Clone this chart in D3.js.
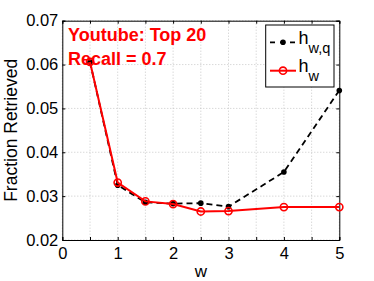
<!DOCTYPE html>
<html><head><meta charset="utf-8">
<script src="https://cdn.jsdelivr.net/npm/d3@7"></script>
<style>body{margin:0;background:#fff}svg{display:block}text{font-family:"Liberation Sans",Arial,sans-serif}</style>
</head><body><svg id="c" width="374" height="281"></svg>
<script>
const xsHwq = [0.5, 1, 1.5, 2, 2.5, 3, 4, 5];
const hwq   = [0.0606, 0.0325, 0.0286, 0.0283, 0.0284, 0.0276, 0.0355, 0.0541];
const xsHw  = [0.5, 1, 1.5, 2, 2.5, 3, 4, 5];
const hw    = [0.0606, 0.0331, 0.0288, 0.0282, 0.0265, 0.0266, 0.0275, 0.0275];
const xTickLabels = [0, 1, 2, 3, 4, 5];
const xGrid = [0, 0.5, 1, 1.5, 2, 2.5, 3, 3.5, 4, 4.5, 5];
const yTicks = [0.02, 0.03, 0.04, 0.05, 0.06, 0.07];

const svg = d3.select("#c");
const L = 62.3, R = 339.3, T = 20.7, B = 240;
const x = d3.scaleLinear().domain([0, 5]).range([L, R]);
const y = d3.scaleLinear().domain([0.02, 0.07]).range([B, T]);

svg.append("rect").attr("x", L).attr("y", T).attr("width", R - L).attr("height", B - T).attr("fill", "#fff");

// grid
const g = svg.append("g").attr("stroke", "#bbb").attr("stroke-width", 0.8).attr("stroke-dasharray", "1,2");
xGrid.forEach(v => g.append("line").attr("x1", x(v)).attr("x2", x(v)).attr("y1", T).attr("y2", B));
yTicks.forEach(v => g.append("line").attr("x1", L).attr("x2", R).attr("y1", y(v)).attr("y2", y(v)));

// axes
const xa = svg.append("g").attr("transform", `translate(0,${B})`)
  .call(d3.axisBottom(x).tickValues(xGrid).tickSize(-3).tickPadding(7).tickFormat(d => xTickLabels.includes(d) ? d : ""));
const xt = svg.append("g").attr("transform", `translate(0,${T})`)
  .call(d3.axisTop(x).tickValues(xGrid).tickSize(-3).tickFormat(""));
const ya = svg.append("g").attr("transform", `translate(${L},0)`)
  .call(d3.axisLeft(y).tickValues(yTicks).tickSize(-3).tickPadding(4).tickFormat(d3.format(".2f")));
const yr = svg.append("g").attr("transform", `translate(${R},0)`)
  .call(d3.axisRight(y).tickValues(yTicks).tickSize(-3).tickFormat(""));
[xa, xt, ya, yr].forEach(a => {
  a.select(".domain").attr("stroke", "#000").attr("stroke-width", 1);
  a.selectAll(".tick line").attr("stroke", "#000");
  a.selectAll("text").attr("font-size", 16.5).attr("fill", "#000").attr("font-family", '"Liberation Sans",Arial,sans-serif');
});

// lines
const line = d3.line().x(d => x(d[0])).y(d => y(d[1]));
const dHwq = xsHwq.map((v, i) => [v, hwq[i]]);
const dHw = xsHw.map((v, i) => [v, hw[i]]);
svg.append("path").datum(dHwq).attr("d", line).attr("fill", "none").attr("stroke", "#000").attr("stroke-width", 1.8).attr("stroke-dasharray", "6,4");
svg.selectAll(".pb").data(dHwq).join("circle").attr("cx", d => x(d[0])).attr("cy", d => y(d[1])).attr("r", 2.8).attr("fill", "#000");
svg.append("path").datum(dHw).attr("d", line).attr("fill", "none").attr("stroke", "#f00").attr("stroke-width", 2);
svg.selectAll(".pr").data(dHw).join("circle").attr("cx", d => x(d[0])).attr("cy", d => y(d[1])).attr("r", 3.6).attr("fill", "none").attr("stroke", "#f00").attr("stroke-width", 1.6);

// annotation
svg.append("text").attr("x", 68).attr("y", 41).attr("fill", "#f00").attr("font-weight", "bold").attr("font-size", 18).text("Youtube: Top 20");
svg.append("text").attr("x", 68).attr("y", 65).attr("fill", "#f00").attr("font-weight", "bold").attr("font-size", 18).text("Recall = 0.7");

// legend
const lg = svg.append("g");
lg.append("rect").attr("x", 265.7).attr("y", 25).attr("width", 68.3).attr("height", 62).attr("fill", "#fff").attr("stroke", "#000").attr("stroke-width", 1);
lg.append("line").attr("x1", 270).attr("x2", 296).attr("y1", 42.3).attr("y2", 42.3).attr("stroke", "#000").attr("stroke-width", 1.8).attr("stroke-dasharray", "5,5");
lg.append("circle").attr("cx", 283).attr("cy", 42.3).attr("r", 2.8).attr("fill", "#000");
const t1 = lg.append("text").attr("x", 298.5).attr("y", 44).attr("font-size", 18);
t1.append("tspan").text("h");
t1.append("tspan").attr("font-size", 14.5).attr("dy", 9).text("w,q");
lg.append("line").attr("x1", 270).attr("x2", 296).attr("y1", 70.7).attr("y2", 70.7).attr("stroke", "#f00").attr("stroke-width", 2);
lg.append("circle").attr("cx", 283).attr("cy", 70.7).attr("r", 3.6).attr("fill", "none").attr("stroke", "#f00").attr("stroke-width", 1.6);
const t2 = lg.append("text").attr("x", 298.5).attr("y", 72).attr("font-size", 18);
t2.append("tspan").text("h");
t2.append("tspan").attr("font-size", 14.5).attr("dy", 9).text("w");

// axis labels
svg.append("text").attr("x", (L + R) / 2).attr("y", 276.5).attr("text-anchor", "middle").attr("font-size", 17).text("w");
svg.append("text").attr("transform", `translate(16.5,${(T + B) / 2}) rotate(-90)`).attr("text-anchor", "middle").attr("font-size", 17.5).text("Fraction Retrieved");
</script></body></html>
